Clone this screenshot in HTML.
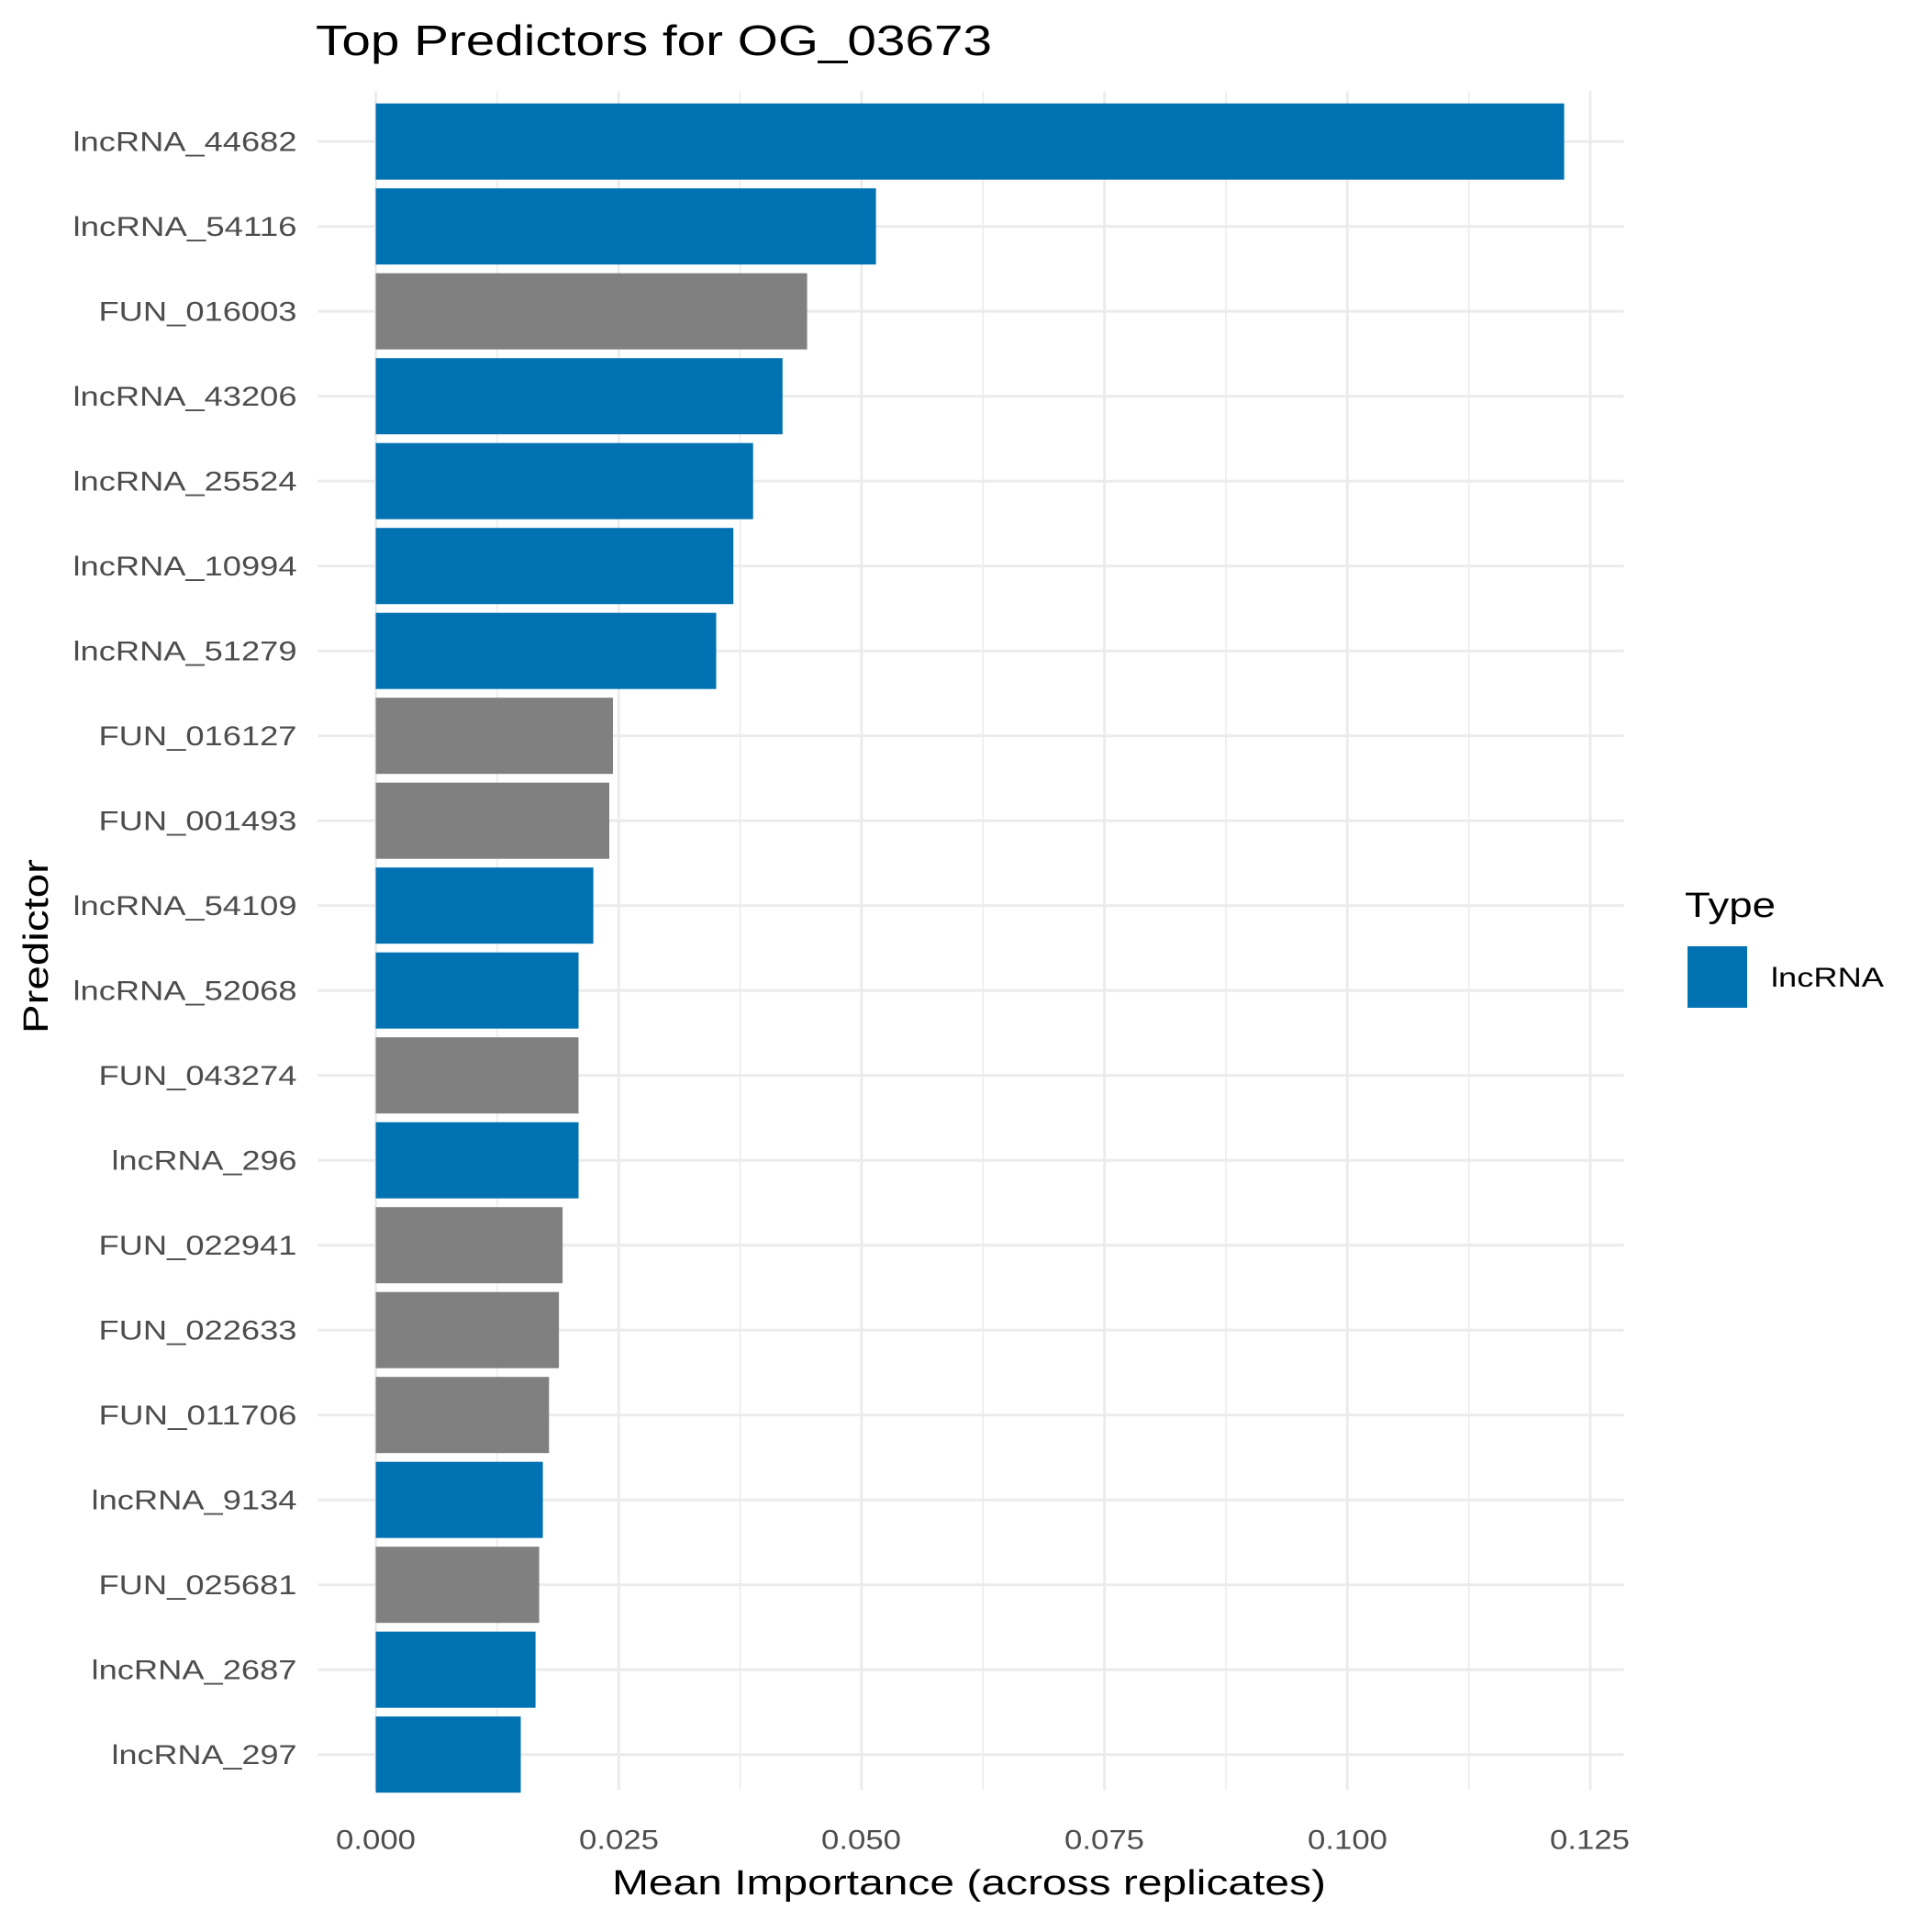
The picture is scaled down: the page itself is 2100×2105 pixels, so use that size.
<!DOCTYPE html>
<html><head><meta charset="utf-8"><style>html,body{margin:0;padding:0;background:#fff}</style></head>
<body>
<svg width="2100" height="2100" xmlns="http://www.w3.org/2000/svg" font-family="Liberation Sans, sans-serif">
<rect width="2100" height="2100" fill="#fff"/>
<g transform="translate(2.5,1.5)">
<g stroke="#ebebeb">
<line x1="407" x2="407" y1="98" y2="1949" stroke-width="2.8"/>
<line x1="539.4" x2="539.4" y1="98" y2="1949" stroke-width="1.5"/>
<line x1="671.7" x2="671.7" y1="98" y2="1949" stroke-width="2.8"/>
<line x1="804.1" x2="804.1" y1="98" y2="1949" stroke-width="1.5"/>
<line x1="936.4" x2="936.4" y1="98" y2="1949" stroke-width="2.8"/>
<line x1="1068.8" x2="1068.8" y1="98" y2="1949" stroke-width="1.5"/>
<line x1="1201.1" x2="1201.1" y1="98" y2="1949" stroke-width="2.8"/>
<line x1="1333.5" x2="1333.5" y1="98" y2="1949" stroke-width="1.5"/>
<line x1="1465.8" x2="1465.8" y1="98" y2="1949" stroke-width="2.8"/>
<line x1="1598.2" x2="1598.2" y1="98" y2="1949" stroke-width="1.5"/>
<line x1="1730.5" x2="1730.5" y1="98" y2="1949" stroke-width="2.8"/>
</g>
<g stroke="#ebebeb" stroke-width="2.8">
<line x1="344" x2="1767" y1="152.7" y2="152.7"/>
<line x1="344" x2="1767" y1="245.2" y2="245.2"/>
<line x1="344" x2="1767" y1="337.7" y2="337.7"/>
<line x1="344" x2="1767" y1="430.2" y2="430.2"/>
<line x1="344" x2="1767" y1="522.7" y2="522.7"/>
<line x1="344" x2="1767" y1="615.2" y2="615.2"/>
<line x1="344" x2="1767" y1="707.7" y2="707.7"/>
<line x1="344" x2="1767" y1="800.2" y2="800.2"/>
<line x1="344" x2="1767" y1="892.7" y2="892.7"/>
<line x1="344" x2="1767" y1="985.2" y2="985.2"/>
<line x1="344" x2="1767" y1="1077.7" y2="1077.7"/>
<line x1="344" x2="1767" y1="1170.2" y2="1170.2"/>
<line x1="344" x2="1767" y1="1262.7" y2="1262.7"/>
<line x1="344" x2="1767" y1="1355.2" y2="1355.2"/>
<line x1="344" x2="1767" y1="1447.7" y2="1447.7"/>
<line x1="344" x2="1767" y1="1540.2" y2="1540.2"/>
<line x1="344" x2="1767" y1="1632.7" y2="1632.7"/>
<line x1="344" x2="1767" y1="1725.2" y2="1725.2"/>
<line x1="344" x2="1767" y1="1817.7" y2="1817.7"/>
<line x1="344" x2="1767" y1="1910.2" y2="1910.2"/>
</g>
<g>
<rect x="407" y="111.2" width="1295.1" height="83" fill="#0072B2"/>
<rect x="407" y="203.7" width="545.1" height="83" fill="#0072B2"/>
<rect x="407" y="296.2" width="470.1" height="83" fill="#808080"/>
<rect x="407" y="388.7" width="443.3" height="83" fill="#0072B2"/>
<rect x="407" y="481.2" width="411.2" height="83" fill="#0072B2"/>
<rect x="407" y="573.7" width="389.7" height="83" fill="#0072B2"/>
<rect x="407" y="666.2" width="371.0" height="83" fill="#0072B2"/>
<rect x="407" y="758.7" width="258.5" height="83" fill="#808080"/>
<rect x="407" y="851.2" width="254.5" height="83" fill="#808080"/>
<rect x="407" y="943.7" width="237.1" height="83" fill="#0072B2"/>
<rect x="407" y="1036.2" width="221.0" height="83" fill="#0072B2"/>
<rect x="407" y="1128.7" width="221.0" height="83" fill="#808080"/>
<rect x="407" y="1221.2" width="221.0" height="83" fill="#0072B2"/>
<rect x="407" y="1313.7" width="203.6" height="83" fill="#808080"/>
<rect x="407" y="1406.2" width="199.6" height="83" fill="#808080"/>
<rect x="407" y="1498.7" width="188.8" height="83" fill="#808080"/>
<rect x="407" y="1591.2" width="182.1" height="83" fill="#0072B2"/>
<rect x="407" y="1683.7" width="178.1" height="83" fill="#808080"/>
<rect x="407" y="1776.2" width="174.1" height="83" fill="#0072B2"/>
<rect x="407" y="1868.7" width="158.0" height="83" fill="#0072B2"/>
</g>
<g font-size="30" fill="#4d4d4d" text-anchor="end" lengthAdjust="spacingAndGlyphs">
<text x="321" y="163" textLength="244" lengthAdjust="spacingAndGlyphs">lncRNA_44682</text>
<text x="321" y="255.5" textLength="244" lengthAdjust="spacingAndGlyphs">lncRNA_54116</text>
<text x="321" y="348" textLength="216" lengthAdjust="spacingAndGlyphs">FUN_016003</text>
<text x="321" y="440.5" textLength="244" lengthAdjust="spacingAndGlyphs">lncRNA_43206</text>
<text x="321" y="533" textLength="244" lengthAdjust="spacingAndGlyphs">lncRNA_25524</text>
<text x="321" y="625.5" textLength="244" lengthAdjust="spacingAndGlyphs">lncRNA_10994</text>
<text x="321" y="718" textLength="244" lengthAdjust="spacingAndGlyphs">lncRNA_51279</text>
<text x="321" y="810.5" textLength="216" lengthAdjust="spacingAndGlyphs">FUN_016127</text>
<text x="321" y="903" textLength="216" lengthAdjust="spacingAndGlyphs">FUN_001493</text>
<text x="321" y="995.5" textLength="244" lengthAdjust="spacingAndGlyphs">lncRNA_54109</text>
<text x="321" y="1088" textLength="244" lengthAdjust="spacingAndGlyphs">lncRNA_52068</text>
<text x="321" y="1180.5" textLength="216" lengthAdjust="spacingAndGlyphs">FUN_043274</text>
<text x="321" y="1273" textLength="202" lengthAdjust="spacingAndGlyphs">lncRNA_296</text>
<text x="321" y="1365.5" textLength="216" lengthAdjust="spacingAndGlyphs">FUN_022941</text>
<text x="321" y="1458" textLength="216" lengthAdjust="spacingAndGlyphs">FUN_022633</text>
<text x="321" y="1550.5" textLength="216" lengthAdjust="spacingAndGlyphs">FUN_011706</text>
<text x="321" y="1643" textLength="224" lengthAdjust="spacingAndGlyphs">lncRNA_9134</text>
<text x="321" y="1735.5" textLength="216" lengthAdjust="spacingAndGlyphs">FUN_025681</text>
<text x="321" y="1828" textLength="224" lengthAdjust="spacingAndGlyphs">lncRNA_2687</text>
<text x="321" y="1920.5" textLength="202" lengthAdjust="spacingAndGlyphs">lncRNA_297</text>
</g>
<g font-size="30" fill="#4d4d4d" text-anchor="middle">
<text x="407" y="2013" textLength="87" lengthAdjust="spacingAndGlyphs">0.000</text><text x="672" y="2013" textLength="87" lengthAdjust="spacingAndGlyphs">0.025</text><text x="936" y="2013" textLength="87" lengthAdjust="spacingAndGlyphs">0.050</text><text x="1201" y="2013" textLength="87" lengthAdjust="spacingAndGlyphs">0.075</text><text x="1466" y="2013" textLength="87" lengthAdjust="spacingAndGlyphs">0.100</text><text x="1730" y="2013" textLength="87" lengthAdjust="spacingAndGlyphs">0.125</text>
</g>
</g>
<text x="1056" y="2064" font-size="38" text-anchor="middle" fill="#000" textLength="778" lengthAdjust="spacingAndGlyphs">Mean Importance (across replicates)</text>
<text transform="translate(52,1031) rotate(-90)" font-size="38" text-anchor="middle" fill="#000" textLength="190" lengthAdjust="spacingAndGlyphs">Predictor</text>
<text x="344" y="60" font-size="46" fill="#000" textLength="737" lengthAdjust="spacingAndGlyphs">Top Predictors for OG_03673</text>
<text x="1836" y="999" font-size="38" fill="#000" textLength="99" lengthAdjust="spacingAndGlyphs">Type</text>
<rect x="1839" y="1031" width="65" height="67" fill="#0072B2"/>
<text x="1930" y="1075" font-size="30" fill="#000" textLength="123" lengthAdjust="spacingAndGlyphs">lncRNA</text>
</svg>
</body></html>
